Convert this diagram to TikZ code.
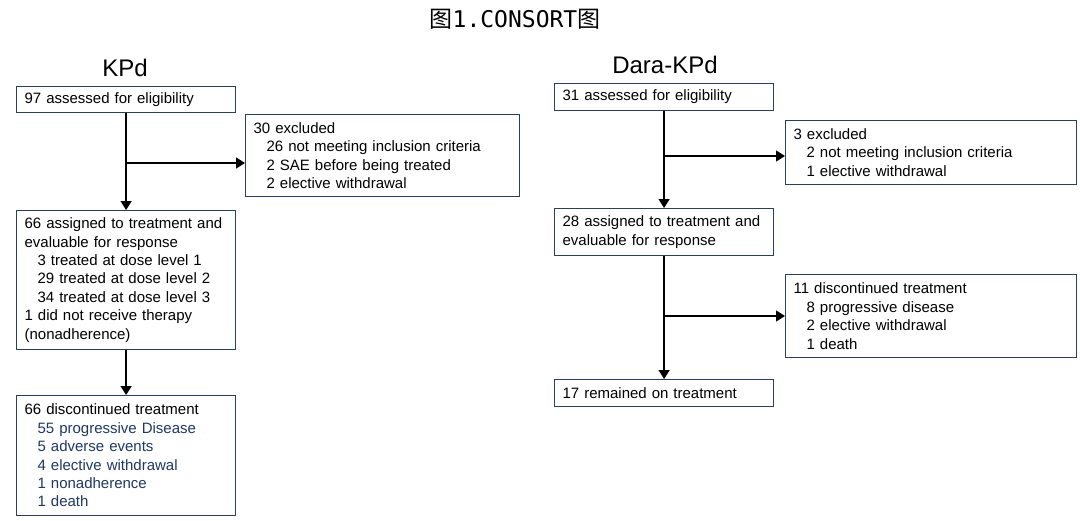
\documentclass[tikz,border=0pt]{standalone}
\usepackage{fontspec}
\setmainfont{Liberation Sans}
\newfontfamily\cjk{Noto Sans CJK SC}
\newfontfamily\monofnt{DejaVu Sans Mono}
\usetikzlibrary{arrows.meta}
\definecolor{boxline}{HTML}{2B3F57}
\definecolor{bluetxt}{HTML}{1F3864}
\newcommand{\ind}{\hspace*{13pt}}
\tikzset{
  x=1pt, y=-1pt,
  box/.style={draw=boxline, line width=1.2pt, anchor=north west, inner xsep=8pt, inner ysep=0pt,
    align=left, font=\fontsize{15}{18.4}\selectfont},
  conn/.style={line width=1.4pt, -{Triangle[length=9pt,width=11pt]}},
  head/.style={font=\fontsize{24}{28}\selectfont},
}
\begin{document}
\begin{tikzpicture}
\useasboundingbox[fill=white] (0,0) rectangle (1080,520);
\node (title) at (515,19) {\fontsize{23}{26}\selectfont\cjk 图\monofnt 1.CONSORT\cjk 图};
\node[head] (kpd) at (125,68) {KPd};
\node[head] (dara) at (665,65) {Dara-KPd};

% KPd column
\node[box, text width=203pt, minimum height=26pt] (a1) at (16,86) {97 assessed for eligibility};
\node[box, text width=258pt, minimum height=82pt] (a2) at (245,114) {30 excluded\\
\ind 26 not meeting inclusion criteria\\
\ind 2 SAE before being treated\\
\ind 2 elective withdrawal};
\node[box, text width=203pt, minimum height=139pt] (a3) at (16,210) {66 assigned to treatment and\\
evaluable for response\\
\ind 3 treated at dose level 1\\
\ind 29 treated at dose level 2\\
\ind 34 treated at dose level 3\\
1 did not receive therapy\\
(nonadherence)};
\node[box, text width=203pt, minimum height=120pt] (a4) at (16,395) {66 discontinued treatment\\
\color{bluetxt}\ind 55 progressive Disease\\
\color{bluetxt}\ind 5 adverse events\\
\color{bluetxt}\ind 4 elective withdrawal\\
\color{bluetxt}\ind 1 nonadherence\\
\color{bluetxt}\ind 1 death};

\draw[conn] (a1.south) -- (a3.north);
\coordinate (j1) at (a1.south |- 0,163);
\draw[conn] (j1) -- (j1 -| a2.west);
\draw[conn] (a3.south) -- (a4.north);

% Dara-KPd column
\node[box, text width=203pt, minimum height=27pt] (b1) at (554,83) {31 assessed for eligibility};
\node[box, text width=275pt, minimum height=64pt] (b2) at (785,120) {3 excluded\\
\ind 2 not meeting inclusion criteria\\
\ind 1 elective withdrawal};
\node[box, text width=203pt, minimum height=47pt] (b3) at (554,208) {28 assigned to treatment and\\
evaluable for response};
\node[box, text width=275pt, minimum height=83pt] (b4) at (785,274) {11 discontinued treatment\\
\ind 8 progressive disease\\
\ind 2 elective withdrawal\\
\ind 1 death};
\node[box, text width=203pt, minimum height=27pt] (b5) at (554,379) {17 remained on treatment};

\draw[conn] (b1.south) -- (b3.north);
\coordinate (j2) at (b1.south |- 0,156);
\draw[conn] (j2) -- (j2 -| b2.west);
\draw[conn] (b3.south) -- (b5.north);
\coordinate (j3) at (b3.south |- 0,316);
\draw[conn] (j3) -- (j3 -| b4.west);
\end{tikzpicture}
\end{document}
